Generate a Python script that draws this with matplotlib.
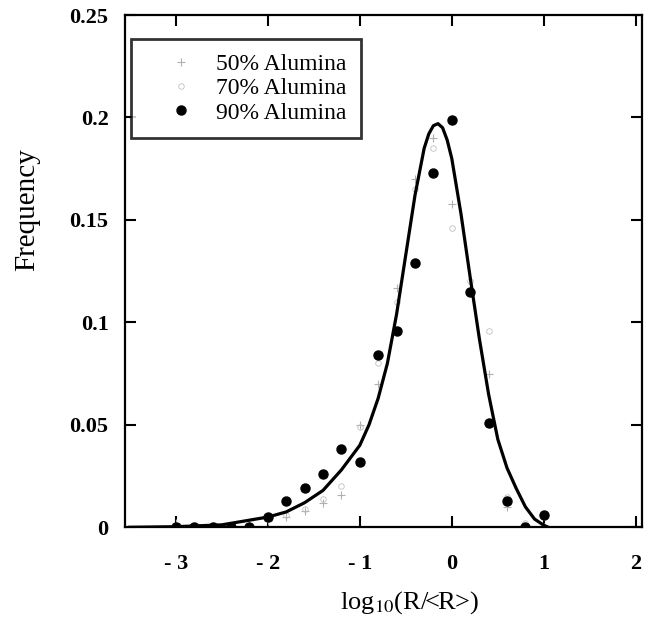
import numpy as np
import matplotlib.pyplot as plt

plt.rcParams['font.family'] = ['Liberation Serif', 'DejaVu Serif']
plt.rcParams['mathtext.fontset'] = 'stix'

### DATA

# bin centres of log10(R/<R>)
bins_50 = [-3.0, -2.8, -2.6, -2.4, -2.2, -2.0, -1.8, -1.6, -1.4, -1.2, -1.0,
           -0.8, -0.6, -0.4, -0.2, 0.0, 0.2, 0.4, 0.6, 0.8, 1.0]
freq_50 = [0.002, 0.0, 0.0, 0.0, 0.001, 0.003, 0.005, 0.008, 0.012, 0.016, 0.05,
           0.07, 0.117, 0.17, 0.19, 0.158, 0.115, 0.075, 0.01, 0.0, 0.0]

bins_70 = [-2.2, -2.0, -1.8, -1.6, -1.4, -1.2, -1.0, -0.8, -0.6, -0.4, -0.2,
           0.0, 0.2, 0.4, 0.6, 0.8, 1.0]
freq_70 = [0.0, 0.004, 0.006, 0.009, 0.014, 0.02, 0.049, 0.08, 0.11, 0.165, 0.185,
           0.146, 0.12, 0.096, 0.015, 0.002, 0.005]

bins_90 = [-3.0, -2.8, -2.6, -2.4, -2.2, -2.0, -1.8, -1.6, -1.4, -1.2, -1.0,
           -0.8, -0.6, -0.4, -0.2, 0.0, 0.2, 0.4, 0.6, 0.8, 1.0]
freq_90 = [0.0, 0.0, 0.0, 0.0, 0.0, 0.005, 0.013, 0.019, 0.026, 0.038, 0.032,
           0.084, 0.096, 0.129, 0.173, 0.199, 0.115, 0.051, 0.013, 0.0, 0.006]

# fitted curve, points
fit_x = [-3.5, -3.0, -2.5, -2.0, -1.8, -1.6, -1.4, -1.3, -1.2, -1.1, -1.0,
         -0.9, -0.8, -0.7, -0.6, -0.5, -0.4, -0.3, -0.25, -0.2, -0.15, -0.1,
         -0.05, 0.0, 0.1, 0.2, 0.3, 0.4, 0.5, 0.6, 0.7, 0.8, 0.9, 1.0, 1.05]
fit_y = [0.0, 0.0003, 0.0012, 0.005, 0.0075, 0.012, 0.018, 0.023, 0.028, 0.034,
         0.040, 0.050, 0.063, 0.080, 0.104, 0.133, 0.162, 0.185, 0.192, 0.196,
         0.197, 0.195, 0.189, 0.180, 0.153, 0.122, 0.092, 0.065, 0.043, 0.029,
         0.019, 0.010, 0.004, 0.001, 0.0]

xticks = [-3, -2, -1, 0, 1, 2]
xtick_labels = ['- 3', '- 2', '- 1', '0', '1', '2']
yticks = [0, 0.05, 0.1, 0.15, 0.2, 0.25]
ytick_labels = ['0', '0.05', '0.1', '0.15', '0.2', '0.25']

### PLOTTING

fig = plt.figure(figsize=(6.52, 6.27), dpi=100)
ax = fig.add_axes([0.192, 0.159, 0.793, 0.817])

ax.plot(bins_50, freq_50, linestyle='none', marker='+', ms=6, mew=0.8,
        color='#b0b0b0', label='50% Alumina')
ax.plot(bins_70, freq_70, linestyle='none', marker='o', ms=4, mew=0.6,
        mfc='none', mec='#c0c0c0', label='70% Alumina')
ax.plot(bins_90, freq_90, linestyle='none', marker='o', ms=6.5,
        color='black', label='90% Alumina', zorder=3)
ax.plot(fit_x, fit_y, color='black', lw=2.3, zorder=2, solid_joinstyle='round')

ax.set_xlim(-3.55, 2.07)
ax.set_ylim(0, 0.25)

ax.set_xticks(xticks)
ax.set_xticklabels(xtick_labels, fontweight='bold', fontsize=16)
ax.set_yticks(yticks)
ax.set_yticklabels(ytick_labels, fontweight='bold', fontsize=16)
ax.tick_params(direction='in', length=8, width=1.5, top=True, right=True)
ax.tick_params(axis='x', pad=19)
ax.tick_params(axis='y', pad=12)

for s in ax.spines.values():
    s.set_linewidth(1.6)

ax.set_ylabel('Frequency', fontsize=21)
ax.yaxis.set_label_coords(-0.165, 0.62)
ax.set_xlabel(r'log$_{10}$(R/<R>)', fontsize=19)
ax.xaxis.set_label_coords(0.55, -0.12)

leg = ax.legend(loc='upper left', bbox_to_anchor=(0.012, 0.953), fontsize=17,
                frameon=True, fancybox=False, edgecolor='black',
                handlelength=3.0, handletextpad=0.0, borderpad=0.6,
                labelspacing=0.12, borderaxespad=0)
leg.get_frame().set_linewidth(2.0)

plt.savefig('out.png', dpi=100)
